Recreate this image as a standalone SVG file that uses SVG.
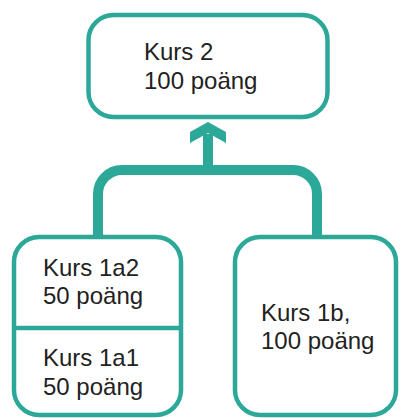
<svg xmlns="http://www.w3.org/2000/svg" width="400" height="418" viewBox="0 0 400 418">
<style>
.box{fill:#fff;stroke:#2ca899;stroke-width:4.5}
.div{stroke:#2ca899;stroke-width:4.5}
.t{font-family:"Liberation Sans",Arial,sans-serif;font-size:24px;fill:#222}
.con{fill:none;stroke:#2ca899;stroke-width:10}
.head{fill:#2ca899}
</style>
<g id="connectors">
<path class="con" d="M98,240 V194 A24,24 0 0 1 122,170 H293 A24,24 0 0 1 317,194 V240"/>
<path class="con" d="M208,170 V134"/>
<polygon class="head" points="208,122 226,132 226,143 208,133 190,143 190,132"/>
</g>
<g id="kurs2">
<rect class="box" x="88.5" y="15" width="239" height="102" rx="25"/>
<text class="t" x="144" y="60">Kurs 2</text>
<text class="t" x="144" y="89">100 poäng</text>
</g>
<g id="kurs1a">
<rect class="box" x="14" y="237" width="167" height="178" rx="25"/>
<line class="div" x1="14" y1="328" x2="181" y2="328"/>
<text class="t" x="43" y="276">Kurs 1a2</text>
<text class="t" x="43" y="304">50 poäng</text>
<text class="t" x="43" y="366">Kurs 1a1</text>
<text class="t" x="43" y="395">50 poäng</text>
</g>
<g id="kurs1b">
<rect class="box" x="235" y="237" width="161" height="178" rx="25"/>
<text class="t" x="261" y="321">Kurs 1b,</text>
<text class="t" x="261" y="349">100 poäng</text>
</g>
</svg>
